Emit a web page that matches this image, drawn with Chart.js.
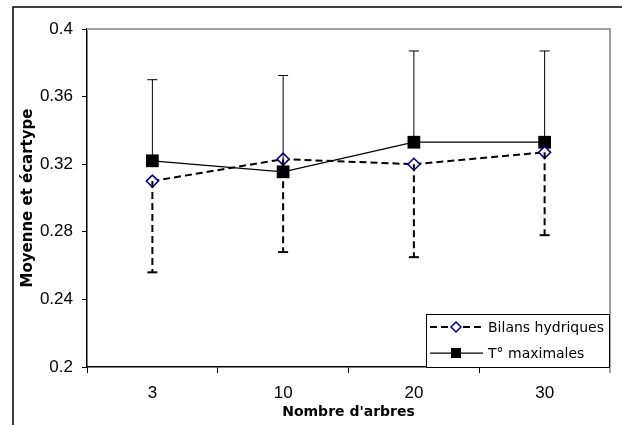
<!DOCTYPE html>
<html><head><meta charset="utf-8">
<script src="https://cdn.jsdelivr.net/npm/chart.js@4/dist/chart.umd.min.js"></script>
<style>html,body{margin:0;padding:0;background:#fff;}canvas{display:block;}</style>
</head><body>
<canvas id="c" width="622" height="425"></canvas>
<script>
const categories = ['3', '10', '20', '30'];
const bilansMean = [0.310, 0.323, 0.320, 0.327];
const bilansSd = [0.054, 0.055, 0.055, 0.049];
const tmaxMean = [0.322, 0.3155, 0.333, 0.333];
const tmaxSd = [0.048, 0.057, 0.054, 0.054];
const yTicks = [0.2, 0.24, 0.28, 0.32, 0.36, 0.4];
const seriesNames = ['Bilans hydriques', 'T° maximales'];
const xTitle = "Nombre d'arbres";
const yTitle = 'Moyenne et écartype';

const framePlugin = {
  id: 'frame',
  beforeDraw(chart) {
    const ctx = chart.ctx;
    ctx.save();
    ctx.fillStyle = '#fff';
    ctx.fillRect(0, 0, chart.width, chart.height);
    ctx.strokeStyle = '#000';
    ctx.lineWidth = 1.5;
    ctx.beginPath();
    ctx.moveTo(13, chart.height);
    ctx.lineTo(13, 7);
    ctx.lineTo(chart.width, 7);
    ctx.stroke();
    ctx.restore();
  },
  beforeDatasetsDraw(chart) {
    const ctx = chart.ctx, a = chart.chartArea;
    ctx.save();
    ctx.strokeStyle = '#a0a0a0';
    ctx.lineWidth = 2;
    ctx.beginPath();
    ctx.moveTo(a.left, a.top);
    ctx.lineTo(a.right, a.top);
    ctx.lineTo(a.right, a.bottom + 6);
    ctx.stroke();
    ctx.restore();
  }
};

const errorBarPlugin = {
  id: 'errorBars',
  afterDatasetsDraw(chart) {
    const ctx = chart.ctx, ys = chart.scales.y;
    chart.data.datasets.forEach((ds, i) => {
      const meta = chart.getDatasetMeta(i);
      ctx.save();
      ctx.strokeStyle = '#000';
      ctx.lineWidth = ds.errorWidth;
      meta.data.forEach((pt, j) => {
        const x = pt.x, y0 = pt.y;
        const y1 = ys.getPixelForValue(ds.data[j] + ds.errorDir * ds.errorValues[j]);
        ctx.setLineDash(ds.errorDash);
        ctx.beginPath();
        ctx.moveTo(x, y0);
        ctx.lineTo(x, y1);
        ctx.stroke();
        ctx.setLineDash([]);
        ctx.beginPath();
        ctx.moveTo(x - 5, y1);
        ctx.lineTo(x + 5, y1);
        ctx.stroke();
      });
      ctx.restore();
    });
  }
};

const legendPlugin = {
  id: 'boxLegend',
  afterDraw(chart) {
    const ctx = chart.ctx, a = chart.chartArea;
    const w = 184, h = 53;
    const x0 = a.right - w, y0 = a.bottom - h;
    ctx.save();
    ctx.fillStyle = '#fff';
    ctx.fillRect(x0, y0, w, h);
    ctx.strokeStyle = '#000';
    ctx.lineWidth = 1;
    ctx.strokeRect(x0 + 0.5, y0 + 0.5, w - 1, h);
    chart.data.datasets.forEach((ds, i) => {
      const cy = y0 + 13 + i * 26;
      ctx.strokeStyle = ds.borderColor;
      ctx.lineWidth = ds.borderWidth;
      ctx.setLineDash(ds.borderDash || []);
      ctx.beginPath();
      ctx.moveTo(x0 + 4, cy);
      ctx.lineTo(x0 + 57, cy);
      ctx.stroke();
      ctx.setLineDash([]);
      const mx = x0 + 30;
      if (ds.pointStyle === 'rectRot') {
        const r = 5;
        ctx.fillStyle = ds.pointBackgroundColor;
        ctx.strokeStyle = ds.pointBorderColor;
        ctx.lineWidth = ds.pointBorderWidth;
        ctx.beginPath();
        ctx.moveTo(mx - r, cy); ctx.lineTo(mx, cy - r); ctx.lineTo(mx + r, cy); ctx.lineTo(mx, cy + r);
        ctx.closePath();
        ctx.fill(); ctx.stroke();
      } else {
        ctx.fillStyle = ds.pointBackgroundColor;
        ctx.fillRect(mx - 5, cy - 5, 10, 10);
      }
      ctx.fillStyle = '#000';
      ctx.font = '14px "DejaVu Sans"';
      ctx.textBaseline = 'middle';
      ctx.textAlign = 'left';
      ctx.fillText(ds.label, x0 + 62, cy + 1);
    });
    ctx.restore();
  }
};

new Chart(document.getElementById('c'), {
  type: 'line',
  data: {
    labels: categories,
    datasets: [
      {
        label: seriesNames[0], data: bilansMean,
        errorValues: bilansSd, errorDir: -1, errorDash: [7, 4], errorWidth: 2,
        borderColor: '#000', borderWidth: 2, borderDash: [7, 4],
        pointStyle: 'rectRot', pointRadius: 6, pointBorderColor: '#000080',
        pointBackgroundColor: '#fff', pointBorderWidth: 1.5, tension: 0, fill: false
      },
      {
        label: seriesNames[1], data: tmaxMean,
        errorValues: tmaxSd, errorDir: 1, errorDash: [], errorWidth: 1,
        borderColor: '#000', borderWidth: 1.25,
        pointStyle: 'rect', pointRadius: 9, pointBackgroundColor: '#000',
        pointBorderColor: '#000', pointBorderWidth: 0, tension: 0, fill: false
      }
    ]
  },
  options: {
    responsive: false, animation: false, devicePixelRatio: 1,
    layout: { padding: { left: 13, top: 29, right: 12, bottom: 0 } },
    plugins: { legend: { display: false }, tooltip: { enabled: false } },
    scales: {
      x: {
        type: 'category', offset: true,
        grid: { offset: true, drawOnChartArea: false, tickLength: 6, color: '#000', lineWidth: 1 },
        border: { color: '#000', width: 1.5 },
        ticks: { font: { family: '"Liberation Sans", Arial, sans-serif', size: 17 }, color: '#000', padding: 10, maxRotation: 0 },
        title: { display: true, text: xTitle, color: '#000', font: { family: '"DejaVu Sans"', size: 14, weight: 'bold' }, padding: { top: 0, bottom: 4 } },
        afterFit(s) { s.height = 58; }
      },
      y: {
        min: 0.2, max: 0.4,
        afterBuildTicks(s) { s.ticks = yTicks.map(v => ({ value: v })); },
        grid: { drawOnChartArea: false, tickLength: 5, color: '#000', lineWidth: 1 },
        border: { color: '#000', width: 1.5 },
        ticks: { font: { family: '"Liberation Sans", Arial, sans-serif', size: 17 }, color: '#000', padding: 9, callback: v => String(v) },
        title: { display: true, text: yTitle, color: '#000', font: { family: '"DejaVu Sans"', size: 15, weight: 'bold' }, padding: { top: 6, bottom: 0 } },
        afterFit(s) { s.width = 74; }
      }
    }
  },
  plugins: [framePlugin, errorBarPlugin, legendPlugin]
});
</script>
</body></html>
